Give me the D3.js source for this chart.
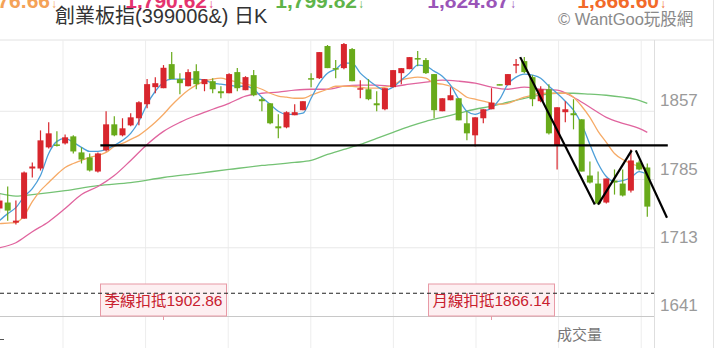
<!DOCTYPE html>
<html>
<head>
<meta charset="utf-8">
<script src="https://cdn.jsdelivr.net/npm/d3@7"></script>
<style>
body{margin:0;background:#fff;}
svg{display:block;font-family:"Liberation Sans",Arial,"Noto Sans CJK TC",sans-serif;}
</style>
</head>
<body>
<svg id="chart" width="720" height="348"></svg>
<script>

// daily K, 80 sessions (red = up, green = down)
var opens=[1754.4,1760.7,1739.5,1743.7,1796.6,1796.6,1818.9,1822.0,1823.1,1830.5,
1813.6,1808.3,1793.4,1815.7,1843.2,1831.6,1842.1,1849.6,1864.4,1882.4,
1881.3,1906.7,1890.9,1883.4,1899.3,1885.6,1888.7,1878.1,1876.0,1898.3,
1879.2,1895.1,1869.7,1865.4,1841.1,1840.0,1852.8,1858.1,1891.9,1891.9,
1925.8,1902.5,1902.5,1922.6,1880.2,1880.2,1865.4,1859.1,1882.4,1897.2,
1901.4,1913.1,1911.0,1896.2,1857.0,1868.6,1870.7,1844.3,1831.6,1849.6,
1859.1,1885.6,1884.5,1905.7,1909.9,1893.0,1867.6,1880.2,1821.0,1856.0,
1854.9,1848.5,1789.2,1780.7,1760.7,1783.9,1780.7,1773.3,1803.0,1797.7];
var highs=[1770.0,1777.6,1762.8,1793.4,1803.0,1836.8,1845.3,1835.8,1832.6,1831.6,
1818.9,1812.5,1813.6,1857.0,1851.7,1849.6,1854.9,1867.6,1890.9,1893.0,
1905.7,1919.4,1897.2,1901.4,1906.7,1890.9,1891.9,1883.4,1897.2,1902.5,
1894.0,1900.4,1871.8,1865.4,1853.8,1857.0,1864.4,1867.6,1897.2,1919.4,
1926.9,1911.0,1929.0,1923.7,1889.8,1890.9,1878.1,1881.3,1900.4,1902.5,
1914.1,1920.5,1913.1,1896.2,1870.7,1882.4,1870.7,1857.0,1850.6,1859.1,
1881.3,1885.6,1896.2,1912.0,1914.1,1895.1,1883.4,1885.6,1861.2,1867.6,
1869.7,1848.5,1804.0,1793.4,1786.0,1795.6,1795.6,1816.7,1805.1,1801.9];
var lows=[1750.0,1741.6,1737.4,1743.7,1787.1,1794.5,1817.8,1819.9,1822.0,1812.5,
1801.9,1793.4,1792.4,1814.6,1830.5,1830.5,1841.1,1842.1,1860.2,1876.0,
1881.3,1890.9,1875.0,1883.4,1880.2,1878.1,1876.0,1870.7,1876.0,1878.1,
1879.2,1872.9,1857.0,1843.2,1828.4,1839.0,1852.8,1858.1,1882.4,1890.9,
1902.5,1891.9,1901.4,1888.7,1870.7,1868.6,1857.0,1858.1,1882.4,1885.6,
1901.4,1904.6,1896.2,1849.6,1857.0,1868.6,1847.4,1826.3,1819.9,1844.3,
1859.1,1884.5,1884.5,1897.2,1897.2,1862.3,1866.5,1832.6,1795.6,1845.3,
1837.9,1793.4,1780.7,1758.5,1759.6,1769.1,1767.0,1771.2,1794.5,1745.8];
var closes=[1762.8,1752.2,1741.6,1792.4,1798.7,1826.3,1833.7,1821.0,1829.5,1814.6,
1806.1,1794.5,1812.5,1843.2,1831.6,1839.0,1850.6,1866.5,1885.6,1886.6,
1902.86,1890.9,1886.6,1898.3,1885.6,1890.9,1880.2,1876.0,1896.2,1881.3,
1893.0,1873.9,1867.6,1844.3,1839.0,1856.0,1856.0,1867.6,1890.9,1919.4,
1902.5,1901.4,1927.9,1888.7,1881.3,1869.7,1863.3,1881.3,1900.4,1902.5,
1914.1,1912.0,1897.2,1858.1,1870.7,1873.9,1847.4,1833.7,1850.6,1859.1,
1866.14,1884.5,1896.2,1906.7,1898.3,1869.7,1880.2,1833.7,1861.2,1859.1,
1852.8,1793.4,1781.8,1759.6,1786.0,1781.8,1768.1,1805.1,1795.6,1756.4];

// moving averages
var ma5=[1741.6,1749.0,1755.3,1767.0,1775.4,1789.2,1812.5,1825.2,1828.4,1824.2,
1818.9,1814.6,1814.6,1816.7,1821.0,1826.3,1833.7,1846.4,1864.4,1878.1,
1887.7,1890.9,1890.9,1890.9,1890.9,1889.8,1886.6,1885.6,1884.5,1883.4,
1883.4,1880.2,1871.8,1864.4,1857.0,1853.8,1853.8,1854.9,1870.7,1886.6,
1897.2,1901.4,1907.8,1907.8,1897.2,1889.8,1883.4,1879.2,1882.4,1889.8,
1897.2,1905.7,1904.6,1899.3,1894.0,1884.5,1869.7,1857.0,1853.8,1857.0,
1860.2,1869.7,1885.6,1893.0,1896.2,1895.1,1891.9,1883.4,1876.0,1867.6,
1858.1,1843.2,1822.0,1801.9,1788.1,1782.8,1783.9,1787.1,1793.4,1790.3];
var ma10=[1738.4,1739.0,1739.5,1746.9,1761.7,1773.3,1781.8,1790.3,1797.7,1801.9,
1805.1,1808.3,1810.4,1813.6,1819.9,1823.1,1827.3,1831.6,1838.0,1845.3,
1853.8,1863.3,1871.8,1879.2,1884.5,1888.7,1890.9,1891.9,1889.8,1887.7,
1885.6,1883.4,1880.2,1876.0,1872.9,1871.8,1870.7,1870.7,1873.9,1877.1,
1880.2,1883.4,1883.4,1883.4,1882.4,1881.3,1881.3,1882.4,1884.5,1889.8,
1891.9,1893.0,1891.9,1886.6,1885.6,1883.4,1878.1,1871.8,1869.7,1867.6,
1865.4,1864.4,1865.4,1868.6,1871.8,1873.9,1876.0,1876.0,1876.0,1876.0,
1871.8,1862.3,1850.6,1835.8,1824.2,1812.5,1806.1,1801.9,1798.7,1794.5];
var ma20=[[0,1713.0],[2,1718.3],[4,1729.9],[6,1740.5],[8,1754.3],[10,1769.1],[12,1777.6],
[14,1789.2],[16,1805.1],[18,1822.0],[20,1835.8],[22,1845.3],[24,1852.7],[26,1859.1],
[28,1865.4],[30,1872.9],[32,1876.0],[34,1877.1],[36,1879.2],[38,1880.2],[40,1880.2],
[42,1883.4],[44,1884.5],[46,1884.5],[48,1883.4],[50,1885.6],[52,1887.7],[54,1889.8],
[56,1888.7],[58,1886.6],[60,1882.4],[62,1880.2],[64,1882.4],[66,1880.2],[68,1879.2],
[70,1871.8],[72,1861.2],[74,1850.6],[76,1844.3],[78,1839.0],[79,1834.7]];
var ma60=[[0,1770.2],[2,1767.5],[4,1769.1],[8,1773.3],[12,1778.6],[16,1781.8],[20,1787.1],
[24,1791.3],[28,1795.6],[32,1799.8],[36,1803.0],[38,1805.1],[40,1811.4],[42,1816.7],
[44,1822.0],[46,1828.4],[48,1834.7],[50,1841.1],[52,1846.4],[54,1850.6],[56,1854.9],
[58,1859.1],[60,1862.3],[62,1866.5],[64,1870.7],[66,1873.9],[68,1876.0],[70,1876.0],
[72,1875.0],[74,1873.9],[76,1871.8],[78,1868.6],[79,1865.4]];

var priceTicks=[1857,1785,1713,1641];
var headNums=["1,776.66","1,790.62","1,799.82","1,824.87","1,866.60"];
var headColors=["#f4a257","#e5336f","#5fb44a","#9a55b8","#f26a2a"];

// drawn trend lines (index, price)
var supportLine=[[12.3,1821],[81.5,1821]];
var zigzag1=[[63.5,1914.1],[72.6,1758.5]];
var zigzag2=[[73.0,1758.5],[77.1,1815.7]];
var zigzag3=[[77.6,1815.7],[81.4,1744.7]];
var refPrice=1665;

// deduction markers
var deductIdx=[20,60];
var deductText=["季線扣抵1902.86","月線扣抵1866.14"];

var svg=d3.select("#chart");
var plotR=654;
var x=d3.scaleLinear().domain([0,79]).range([-0.5,647.3]);
var y=d3.scaleLinear().domain([1641,1929]).range([316,43]);

var upCol="#d8262d", dnCol="#68aa1a";

// header: values cut off at the top edge, arrow kept in same text
var headEnd=[57,214,364,516,666];
var ht=svg.selectAll("text.hn").data(headNums).enter().append("text")
	.attr("class","hn")
	.attr("x",function(d,i){ return headEnd[i]; })
	.attr("y",8)
	.attr("text-anchor","end")
	.attr("fill",function(d,i){ return headColors[i]; });
ht.append("tspan").attr("font-size",21).attr("font-weight","bold").text(function(d){ return d; });
ht.append("tspan").attr("font-size",12).attr("dx",1).text("↓");

svg.append("text").attr("x",55).attr("y",23)
	.attr("font-size",20).attr("fill","#333")
	.text("創業板指(399006&) 日K");
svg.append("text").attr("x",558).attr("y",25)
	.attr("font-size",16.5).attr("fill","#8a8a8a")
	.text("© WantGoo玩股網");

// frame and grid
svg.append("line").attr("x1",0).attr("x2",713).attr("y1",40).attr("y2",40).attr("stroke","#e2e2e2");
svg.selectAll("line.vg").data(d3.range(8)).enter().append("line")
	.attr("class","vg")
	.attr("x1",function(k){ return 63+82.6*k; }).attr("x2",function(k){ return 63+82.6*k; })
	.attr("y1",40).attr("y2",348)
	.attr("stroke","#ededed");
svg.selectAll("line.hg").data(priceTicks.slice(0,3)).enter().append("line")
	.attr("class","hg")
	.attr("x1",0).attr("x2",plotR)
	.attr("y1",function(d){ return y(d); }).attr("y2",function(d){ return y(d); })
	.attr("stroke","#e8e8e8");
svg.append("line").attr("x1",0).attr("x2",plotR).attr("y1",y(1641)+0.5).attr("y2",y(1641)+0.5).attr("stroke","#c8c8c8");
svg.append("line").attr("x1",plotR+0.5).attr("x2",plotR+0.5).attr("y1",40).attr("y2",348).attr("stroke","#dedede");
svg.append("line").attr("x1",713.5).attr("x2",713.5).attr("y1",0).attr("y2",348).attr("stroke","#e4e4e4");

svg.selectAll("text.yl").data(priceTicks).enter().append("text")
	.attr("class","yl")
	.attr("x",660)
	.attr("y",function(d){ return y(d)-5; })
	.attr("font-size",17).attr("fill","#9a9a9a")
	.text(function(d){ return d; });

svg.append("text").attr("x",557).attr("y",340)
	.attr("font-size",15).attr("fill","#777")
	.text("成交量");
svg.append("line").attr("x1",0).attr("x2",4).attr("y1",339.5).attr("y2",339.5).attr("stroke","#555");

// plot clip
svg.append("clipPath").attr("id","pc").append("rect")
	.attr("x",0).attr("y",40).attr("width",plotR).attr("height",276);
var plot=svg.append("g").attr("clip-path","url(#pc)");

// moving averages
var lineI=d3.line().x(function(d,i){ return x(i); }).y(function(d){ return y(d); }).curve(d3.curveMonotoneX);
var lineP=d3.line().x(function(d){ return x(d[0]); }).y(function(d){ return y(d[1]); }).curve(d3.curveMonotoneX);
plot.append("path").attr("d",lineP(ma60)).attr("fill","none").attr("stroke","#74c274").attr("stroke-width",1.3);
plot.append("path").attr("d",lineP(ma20)).attr("fill","none").attr("stroke","#e0649e").attr("stroke-width",1.3);
plot.append("path").attr("d",lineI(ma10)).attr("fill","none").attr("stroke","#f6aa66").attr("stroke-width",1.3);
plot.append("path").attr("d",lineI(ma5)).attr("fill","none").attr("stroke","#4d9fd9").attr("stroke-width",1.3);

// candles
var idx=d3.range(opens.length);
var col=function(i){ return closes[i]>=opens[i] ? upCol : dnCol; };
plot.selectAll("line.wick").data(idx).enter().append("line")
	.attr("class","wick")
	.attr("x1",function(i){ return x(i); }).attr("x2",function(i){ return x(i); })
	.attr("y1",function(i){ return y(highs[i]); }).attr("y2",function(i){ return y(lows[i]); })
	.attr("stroke",col).attr("stroke-width",1.2);
plot.selectAll("rect.body").data(idx).enter().append("rect")
	.attr("class","body")
	.attr("x",function(i){ return x(i)-3; })
	.attr("width",6)
	.attr("y",function(i){ return y(Math.max(opens[i],closes[i])); })
	.attr("height",function(i){ return Math.max(1.5,Math.abs(y(opens[i])-y(closes[i]))); })
	.attr("fill",col);

// reference dashed line and deduction boxes
svg.selectAll("rect.db").data(deductIdx).enter().append("rect")
	.attr("class","db")
	.attr("x",function(d){ return x(d)-63; }).attr("y",284)
	.attr("width",126).attr("height",32)
	.attr("fill","#fdeff1").attr("stroke","#e89aa6").attr("stroke-width",1);
svg.selectAll("line.dt").data(deductIdx).enter().append("line")
	.attr("class","dt")
	.attr("x1",function(d){ return x(d); }).attr("x2",function(d){ return x(d); })
	.attr("y1",316).attr("y2",320).attr("stroke","#e89aa6");
svg.append("line").attr("x1",0).attr("x2",plotR)
	.attr("y1",y(refPrice)).attr("y2",y(refPrice))
	.attr("stroke","#222").attr("stroke-width",1.2).attr("stroke-dasharray","4,3");
svg.selectAll("text.dx").data(deductIdx).enter().append("text")
	.attr("class","dx")
	.attr("x",function(d){ return x(d); }).attr("y",306)
	.attr("text-anchor","middle")
	.attr("font-size",15).attr("fill","#c8202e")
	.attr("textLength",118).attr("lengthAdjust","spacingAndGlyphs")
	.text(function(d,i){ return deductText[i]; });

// hand-drawn lines
[supportLine,zigzag1,zigzag2,zigzag3].forEach(function(seg){
	svg.append("path").attr("d",d3.line().x(function(d){ return x(d[0]); }).y(function(d){ return y(d[1]); })(seg))
		.attr("fill","none").attr("stroke","#000").attr("stroke-width",2.2);
});

</script>
</body>
</html>
